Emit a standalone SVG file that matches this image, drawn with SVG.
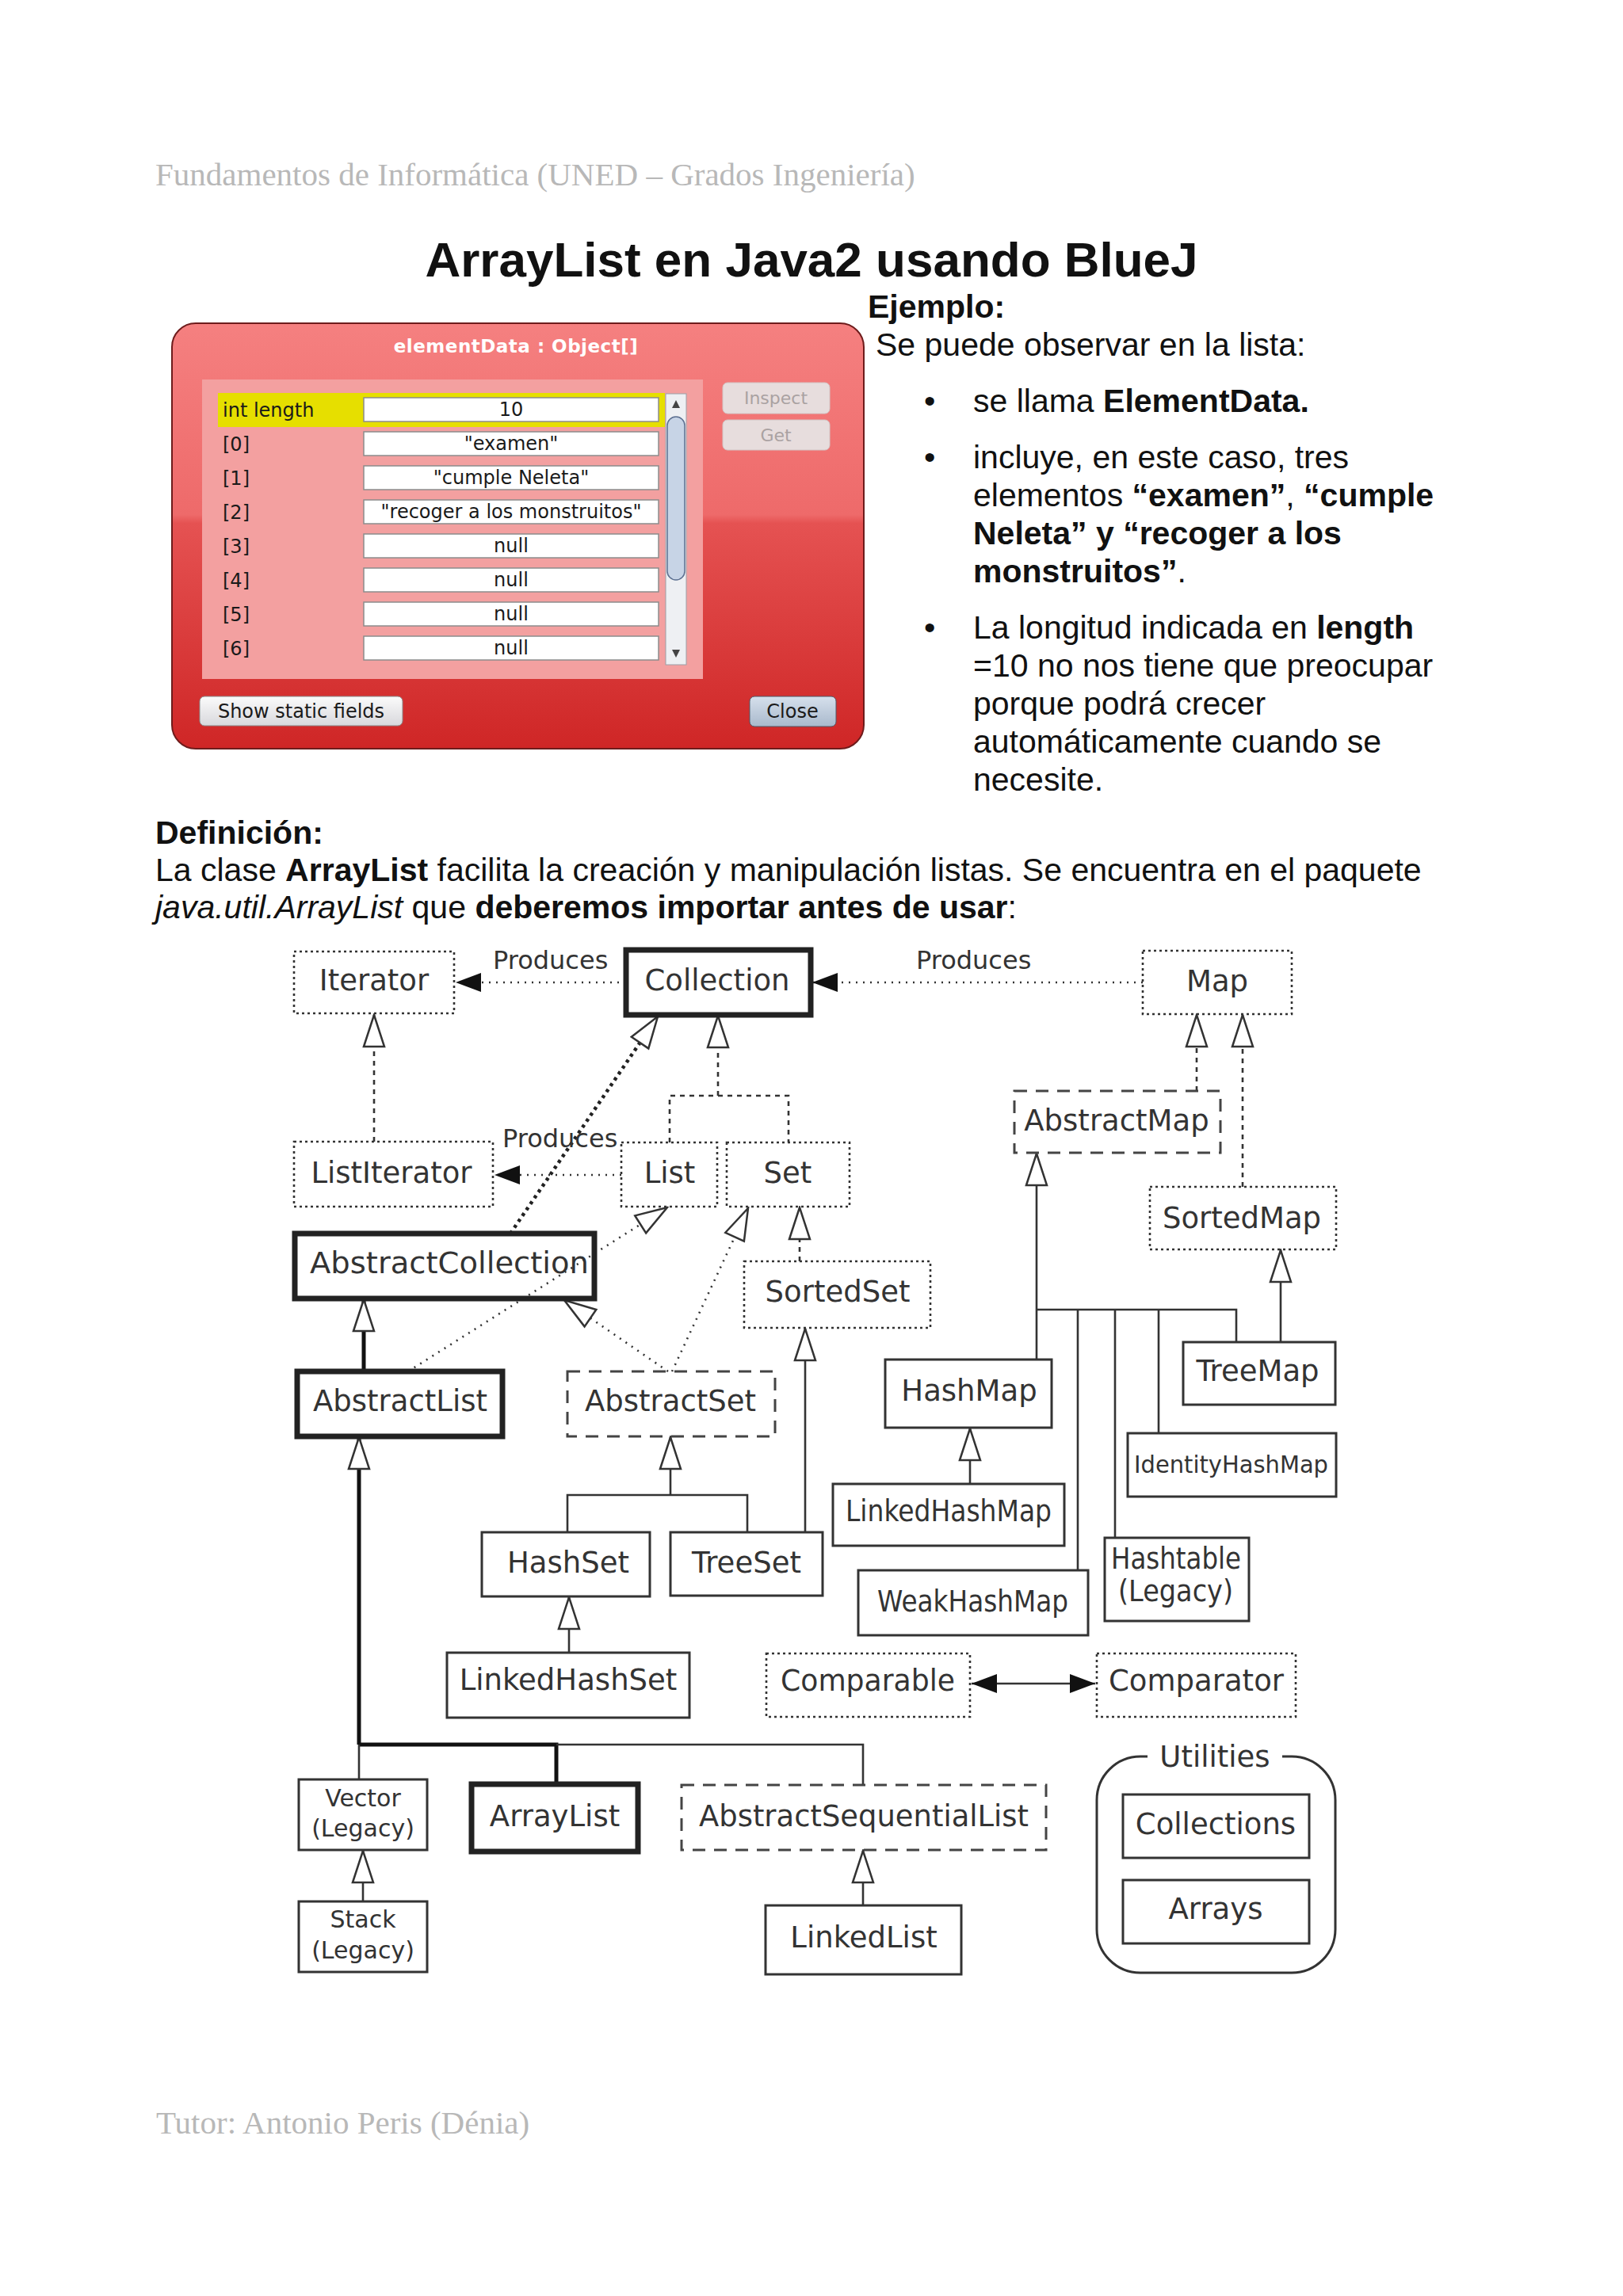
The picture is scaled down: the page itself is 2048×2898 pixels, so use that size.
<svg xmlns="http://www.w3.org/2000/svg" width="2048" height="2898" viewBox="0 0 2048 2898">
<defs>
<style>
.hdr{font-family:"Liberation Serif",serif;font-size:41px;fill:#b8b8b8}
.body{font-family:"Liberation Sans",Arial,sans-serif;font-size:41px;fill:#111}
.b{font-weight:bold}
.dlg{font-family:"DejaVu Sans",sans-serif;font-size:24px;fill:#1a1a1a}
.lbl{font-family:"DejaVu Sans",sans-serif;font-size:37px;fill:#333}
.sm{font-size:30px}
.prod{font-family:"DejaVu Sans",sans-serif;font-size:32px;fill:#333}
.dot{fill:none;stroke:#333;stroke-width:2.6;stroke-dasharray:3 4}
.dash{fill:none;stroke:#444;stroke-width:3;stroke-dasharray:16 11}
.solid{fill:none;stroke:#333;stroke-width:3}
.thick{fill:none;stroke:#222;stroke-width:7}
.c-dash{fill:none;stroke:#333;stroke-width:2.6;stroke-dasharray:6 6}
.c-dot{fill:none;stroke:#333;stroke-width:2.6;stroke-dasharray:2 7}
.c-bigdot{fill:none;stroke:#222;stroke-width:4.5;stroke-dasharray:4 5}
.c-solid{fill:none;stroke:#333;stroke-width:2.6}
.c-thick{fill:none;stroke:#111;stroke-width:5}
</style>
<marker id="tri" markerUnits="userSpaceOnUse" viewBox="-2 -2 44 30" refX="40" refY="13" markerWidth="44" markerHeight="30" orient="auto">
<path d="M0,0 L40,13 L0,26 Z" fill="#fff" stroke="#333" stroke-width="2.5"/>
</marker>
<marker id="arr" markerUnits="userSpaceOnUse" viewBox="0 0 32 24" refX="32" refY="12" markerWidth="32" markerHeight="24" orient="auto-start-reverse">
<path d="M0,0 L32,12 L0,24 Z" fill="#111"/>
</marker>
<linearGradient id="red" gradientUnits="userSpaceOnUse" x1="0" y1="408" x2="0" y2="945">
<stop offset="0" stop-color="#f58080"/>
<stop offset="0.45" stop-color="#ee6a6a"/>
<stop offset="0.47" stop-color="#e55252"/>
<stop offset="1" stop-color="#cf2626"/>
</linearGradient>
<linearGradient id="btn" x1="0" y1="0" x2="0" y2="1">
<stop offset="0" stop-color="#fbfbfb"/>
<stop offset="1" stop-color="#d8d8dc"/>
</linearGradient>
<linearGradient id="btnb" x1="0" y1="0" x2="0" y2="1">
<stop offset="0" stop-color="#d6e0ec"/>
<stop offset="1" stop-color="#a9b9cc"/>
</linearGradient>
</defs>
<rect width="2048" height="2898" fill="#fff"/>

<g id="page-text">
<text class="hdr" x="196" y="234">Fundamentos de Informática (UNED – Grados Ingeniería)</text>
<text x="1024" y="349" text-anchor="middle" font-family="Liberation Sans, Arial, sans-serif" font-size="62" font-weight="bold" fill="#111">ArrayList en Java2 usando BlueJ</text>
<text class="body b" x="1095" y="401">Ejemplo:</text>
<text class="body" x="1105" y="449">Se puede observar en la lista:</text>
<g class="body">
<text x="1166" y="520">•</text>
<text x="1228" y="520">se llama <tspan class="b">ElementData.</tspan></text>
<text x="1166" y="591">•</text>
<text x="1228" y="591">incluye, en este caso, tres</text>
<text x="1228" y="639">elementos <tspan class="b">“examen”</tspan>, <tspan class="b">“cumple</tspan></text>
<text x="1228" y="687" class="b">Neleta” y “recoger a los</text>
<text x="1228" y="735"><tspan class="b">monstruitos”</tspan>.</text>
<text x="1166" y="806">•</text>
<text x="1228" y="806">La longitud indicada en <tspan class="b">length</tspan></text>
<text x="1228" y="854">=10 no nos tiene que preocupar</text>
<text x="1228" y="902">porque podrá crecer</text>
<text x="1228" y="950">automáticamente cuando se</text>
<text x="1228" y="998">necesite.</text>
</g>
<text class="body b" x="196" y="1065">Definición:</text>
<text class="body" x="196" y="1112">La clase <tspan class="b">ArrayList</tspan> facilita la creación y manipulación listas. Se encuentra en el paquete</text>
<text class="body" x="196" y="1159"><tspan font-style="italic">java.util.ArrayList</tspan> que <tspan class="b">deberemos importar antes de usar</tspan>:</text>
<text class="hdr" x="197" y="2693">Tutor: Antonio Peris (Dénia)</text>
</g>

<g id="bluej-inspector">
<rect x="217" y="408" width="873" height="537" rx="30" fill="url(#red)" stroke="#6e1c1c" stroke-width="2"/>
<text x="651" y="445" text-anchor="middle" font-family="DejaVu Sans, sans-serif" font-size="23" font-weight="bold" fill="#fff" letter-spacing="0.5">elementData : Object[]</text>
<rect x="255" y="479" width="632" height="378" fill="#f3a0a0"/>
<rect x="275" y="496" width="564" height="43" fill="#e6df00"/>
<g fill="#fff" stroke="#8c8c8c" stroke-width="1.5">
<rect x="459" y="502" width="372" height="30"/>
<rect x="459" y="545" width="372" height="30"/>
<rect x="459" y="588" width="372" height="30"/>
<rect x="459" y="631" width="372" height="30"/>
<rect x="459" y="674" width="372" height="30"/>
<rect x="459" y="717" width="372" height="30"/>
<rect x="459" y="760" width="372" height="30"/>
<rect x="459" y="803" width="372" height="30"/>
</g>
<g class="dlg">
<text x="281" y="526">int length</text>
<text x="281" y="569">[0]</text>
<text x="281" y="612">[1]</text>
<text x="281" y="655">[2]</text>
<text x="281" y="698">[3]</text>
<text x="281" y="741">[4]</text>
<text x="281" y="784">[5]</text>
<text x="281" y="827">[6]</text>
</g>
<g class="dlg" text-anchor="middle">
<text x="645" y="525">10</text>
<text x="645" y="568">"examen"</text>
<text x="645" y="611">"cumple Neleta"</text>
<text x="645" y="654">"recoger a los monstruitos"</text>
<text x="645" y="697">null</text>
<text x="645" y="740">null</text>
<text x="645" y="783">null</text>
<text x="645" y="826">null</text>
</g>
<rect x="840" y="497" width="26" height="342" fill="#eef0f3" stroke="#9aa0a8" stroke-width="1"/>
<rect x="842" y="526" width="22" height="206" rx="11" fill="#c7d4e6" stroke="#5b6f90" stroke-width="1.5"/>
<path d="M853,505 L858,515 L848,515 Z" fill="#444"/>
<path d="M853,830 L858,820 L848,820 Z" fill="#444"/>
<rect x="912" y="483" width="135" height="39" rx="6" fill="#e7dddd" stroke="#d2c6c6"/>
<text x="979" y="510" text-anchor="middle" font-family="DejaVu Sans, sans-serif" font-size="22" fill="#aaa2a2">Inspect</text>
<rect x="912" y="530" width="135" height="38" rx="6" fill="#e7dddd" stroke="#d2c6c6"/>
<text x="979" y="557" text-anchor="middle" font-family="DejaVu Sans, sans-serif" font-size="22" fill="#aaa2a2">Get</text>
<rect x="252" y="879" width="256" height="37" rx="6" fill="url(#btn)" stroke="#8a8a8a"/>
<text class="dlg" x="380" y="906" text-anchor="middle">Show static fields</text>
<rect x="946" y="879" width="109" height="38" rx="6" fill="url(#btnb)" stroke="#4e5866"/>
<text class="dlg" x="1000" y="906" text-anchor="middle">Close</text>
</g>

<g id="connectors">
<path class="c-dot" d="M790,1240 H575" marker-end="url(#arr)"/>
<path class="c-dot" d="M1442,1240 H1025" marker-end="url(#arr)"/>
<path class="c-dot" d="M784,1483 H624" marker-end="url(#arr)"/>
<path class="c-dash" d="M472,1441 V1281" marker-end="url(#tri)"/>
<path class="c-dash" d="M845,1442 V1383 H995 V1442"/>
<path class="c-dash" d="M906,1383 V1282" marker-end="url(#tri)"/>
<path class="c-bigdot" d="M644,1557 L830,1283" marker-end="url(#tri)"/>
<path class="c-dot" d="M515,1731 L842,1524" marker-end="url(#tri)"/>
<path class="c-dot" d="M843,1731 L712,1641" marker-end="url(#tri)"/>
<path class="c-dot" d="M848,1731 L944,1525" marker-end="url(#tri)"/>
<path class="c-dash" d="M1009,1592 V1524" marker-end="url(#tri)"/>
<path class="c-dash" d="M1510,1377 V1281" marker-end="url(#tri)"/>
<path class="c-dash" d="M1568,1498 V1281" marker-end="url(#tri)"/>
<path class="c-solid" d="M1016,1934 V1677" marker-end="url(#tri)"/>
<path class="c-solid" d="M716,1934 V1887 H943 V1934"/>
<path class="c-solid" d="M846,1887 V1814" marker-end="url(#tri)"/>
<path class="c-solid" d="M718,2086 V2016" marker-end="url(#tri)"/>
<path class="c-thick" d="M459,1731 V1640" marker-end="url(#tri)"/>
<path class="c-thick" d="M453,2202 V1814" marker-end="url(#tri)"/>
<path class="c-thick" d="M453,2202 H702 V2252"/>
<path class="c-solid" d="M702,2202 H1089 V2253"/>
<path class="c-solid" d="M453,2202 V2246"/>
<path class="c-solid" d="M458,2400 V2336" marker-end="url(#tri)"/>
<path class="c-solid" d="M1089,2405 V2336" marker-end="url(#tri)"/>
<path class="c-solid" d="M1308,1716 V1456" marker-end="url(#tri)"/>
<path class="c-solid" d="M1308,1653 H1560 V1694"/>
<path class="c-solid" d="M1360,1653 V1982"/>
<path class="c-solid" d="M1407,1653 V1941"/>
<path class="c-solid" d="M1462,1653 V1809"/>
<path class="c-solid" d="M1616,1694 V1578" marker-end="url(#tri)"/>
<path class="c-solid" d="M1224,1873 V1803" marker-end="url(#tri)"/>
<path class="c-solid" d="M1226,2125 H1382" marker-start="url(#arr)" marker-end="url(#arr)"/>
<text class="prod" x="622" y="1223">Produces</text>
<text class="prod" x="1156" y="1223">Produces</text>
<text class="prod" x="634" y="1448">Produces</text>
</g>

<g id="n-iterator"><rect class="dot" x="371" y="1201" width="202" height="78"/><text class="lbl" x="472" y="1250" text-anchor="middle">Iterator</text></g>
<g id="n-collection"><rect class="thick" x="790" y="1199" width="233" height="82"/><text class="lbl" x="905" y="1250" text-anchor="middle">Collection</text></g>
<g id="n-map"><rect class="dot" x="1442" y="1200" width="188" height="80"/><text class="lbl" x="1536" y="1251" text-anchor="middle">Map</text></g>
<g id="n-listiterator"><rect class="dot" x="371" y="1441" width="251" height="82"/><text class="lbl" x="494" y="1493" text-anchor="middle">ListIterator</text></g>
<g id="n-list"><rect class="dot" x="784" y="1442" width="121" height="81"/><text class="lbl" x="845" y="1493" text-anchor="middle">List</text></g>
<g id="n-set"><rect class="dot" x="917" y="1442" width="155" height="81"/><text class="lbl" x="994" y="1493" text-anchor="middle">Set</text></g>
<g id="n-abstractmap"><rect class="dash" x="1280" y="1377" width="260" height="78"/><text class="lbl" x="1409" y="1427" text-anchor="middle">AbstractMap</text></g>
<g id="n-sortedmap"><rect class="dot" x="1451" y="1498" width="235" height="79"/><text class="lbl" x="1567" y="1550" text-anchor="middle">SortedMap</text></g>
<g id="n-abstractcollection"><rect class="thick" x="372" y="1557" width="378" height="82"/><text class="lbl" x="391" y="1607" textLength="352" lengthAdjust="spacingAndGlyphs">AbstractCollection</text></g>
<g id="n-sortedset"><rect class="dot" x="939" y="1592" width="235" height="84"/><text class="lbl" x="1057" y="1643" text-anchor="middle">SortedSet</text></g>
<g id="n-abstractlist"><rect class="thick" x="375" y="1731" width="259" height="82"/><text class="lbl" x="505" y="1781" text-anchor="middle">AbstractList</text></g>
<g id="n-abstractset"><rect class="dash" x="716" y="1731" width="262" height="82"/><text class="lbl" x="846" y="1781" text-anchor="middle">AbstractSet</text></g>
<g id="n-hashmap"><rect class="solid" x="1117" y="1716" width="210" height="86"/><text class="lbl" x="1223" y="1768" text-anchor="middle">HashMap</text></g>
<g id="n-treemap"><rect class="solid" x="1493" y="1694" width="192" height="79"/><text class="lbl" x="1587" y="1743" text-anchor="middle">TreeMap</text></g>
<g id="n-identityhashmap"><rect class="solid" x="1423" y="1809" width="263" height="80"/><text class="lbl sm" x="1431" y="1859" textLength="245" lengthAdjust="spacingAndGlyphs">IdentityHashMap</text></g>
<g id="n-hashset"><rect class="solid" x="608" y="1934" width="212" height="81"/><text class="lbl" x="717" y="1985" text-anchor="middle">HashSet</text></g>
<g id="n-treeset"><rect class="solid" x="846" y="1934" width="192" height="80"/><text class="lbl" x="942" y="1985" text-anchor="middle">TreeSet</text></g>
<g id="n-linkedhashmap"><rect class="solid" x="1051" y="1873" width="292" height="78"/><text class="lbl" x="1067" y="1920" textLength="260" lengthAdjust="spacingAndGlyphs">LinkedHashMap</text></g>
<g id="n-hashtable"><rect class="solid" x="1394" y="1941" width="182" height="105"/><text class="lbl" x="1402" y="1980" font-size="33" textLength="164" lengthAdjust="spacingAndGlyphs">Hashtable</text><text class="lbl" x="1411" y="2021" font-size="33" textLength="145" lengthAdjust="spacingAndGlyphs">(Legacy)</text></g>
<g id="n-weakhashmap"><rect class="solid" x="1083" y="1982" width="290" height="82"/><text class="lbl" x="1107" y="2034" textLength="241" lengthAdjust="spacingAndGlyphs">WeakHashMap</text></g>
<g id="n-linkedhashset"><rect class="solid" x="564" y="2086" width="306" height="82"/><text class="lbl" x="717" y="2133" text-anchor="middle">LinkedHashSet</text></g>
<g id="n-comparable"><rect class="dot" x="967" y="2087" width="257" height="80"/><text class="lbl" x="985" y="2134" textLength="220" lengthAdjust="spacingAndGlyphs">Comparable</text></g>
<g id="n-comparator"><rect class="dot" x="1384" y="2087" width="251" height="80"/><text class="lbl" x="1399" y="2134" textLength="221" lengthAdjust="spacingAndGlyphs">Comparator</text></g>
<g id="n-vector"><rect class="solid" x="377" y="2246" width="162" height="89"/><text class="lbl sm" x="458" y="2280" text-anchor="middle">Vector</text><text class="lbl sm" x="458" y="2318" text-anchor="middle">(Legacy)</text></g>
<g id="n-arraylist"><rect class="thick" x="595" y="2252" width="210" height="85"/><text class="lbl" x="700" y="2305" text-anchor="middle">ArrayList</text></g>
<g id="n-abstractsequentiallist"><rect class="dash" x="860" y="2253" width="460" height="82"/><text class="lbl" x="882" y="2305" textLength="416" lengthAdjust="spacingAndGlyphs">AbstractSequentialList</text></g>
<g id="n-stack"><rect class="solid" x="377" y="2400" width="162" height="89"/><text class="lbl sm" x="458" y="2433" text-anchor="middle">Stack</text><text class="lbl sm" x="458" y="2472" text-anchor="middle">(Legacy)</text></g>
<g id="n-linkedlist"><rect class="solid" x="966" y="2405" width="247" height="87"/><text class="lbl" x="1090" y="2458" text-anchor="middle">LinkedList</text></g>
<g id="n-utilities">
<path class="solid" d="M1448,2217 H1439 A55,55 0 0 0 1384,2272 V2435 A55,55 0 0 0 1439,2490 H1630 A55,55 0 0 0 1685,2435 V2272 A55,55 0 0 0 1630,2217 H1618"/>
<text class="lbl" x="1533" y="2230" text-anchor="middle">Utilities</text>
<g id="n-collections"><rect class="solid" x="1417" y="2265" width="235" height="80"/><text class="lbl" x="1534" y="2315" text-anchor="middle">Collections</text></g>
<g id="n-arrays"><rect class="solid" x="1417" y="2373" width="235" height="80"/><text class="lbl" x="1534" y="2422" text-anchor="middle">Arrays</text></g>
</g>
</svg>
